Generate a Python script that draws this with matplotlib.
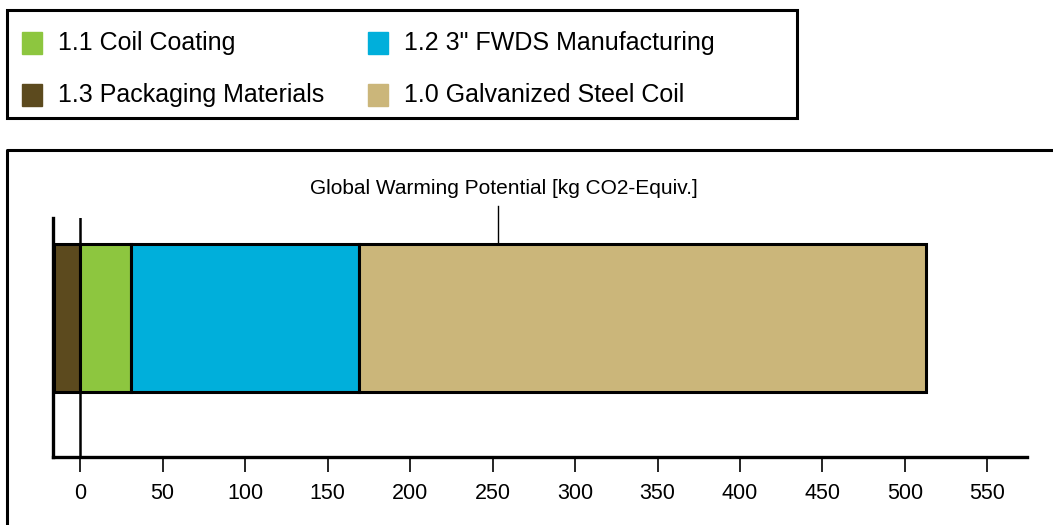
import matplotlib.pyplot as plt
from matplotlib.patches import Rectangle
from matplotlib.lines import Line2D

plt.rcParams['font.family'] = ['Liberation Sans', 'DejaVu Sans']

# GWP contributions [kg CO2-Equiv.]
labels = ['1.3 Packaging Materials', '1.1 Coil Coating',
          '1.2 3" FWDS Manufacturing', '1.0 Galvanized Steel Coil']
values = [-16, 31, 138, 344]
colors = ['#5c4a1e', '#8dc63f', '#00afdb', '#cbb67a']
ticks = [0, 50, 100, 150, 200, 250, 300, 350, 400, 450, 500, 550]

fig = plt.figure(figsize=(10.53, 5.25), dpi=100)
ax = fig.add_axes([0.0503, 0.1295, 0.925, 0.4553])

# stack: negative part left of zero, positives after
left = 0
for lab, v, c in zip(labels, values, colors):
    if v < 0:
        ax.barh(0.58, v, left=0, height=0.62, color=c, edgecolor='black', linewidth=2.2)
    else:
        ax.barh(0.58, v, left=left, height=0.62, color=c, edgecolor='black', linewidth=2.2)
        left += v

ax.axvline(0, color='black', linewidth=1.8, zorder=5)
ax.set_xlim(-16.5, 574)
ax.set_ylim(0, 1)
ax.set_yticks([])
ax.set_xticks(ticks)
ax.tick_params(axis='x', length=11, width=1.2, labelsize=15.5, pad=8)
for s in ['top', 'right']:
    ax.spines[s].set_visible(False)
for s in ['left', 'bottom']:
    ax.spines[s].set_linewidth(2.4)

# label with leader line
tr = ax.get_xaxis_transform()
ax.plot([253, 253], [0.89, 1.05], color='black', lw=1.0, transform=tr, clip_on=False)
ax.text(257, 1.125, 'Global Warming Potential [kg CO2-Equiv.]', transform=tr,
        ha='center', va='center', fontsize=15)

# legend box
W, H = 1053.0, 525.0
fig.patches.append(Rectangle((7 / W, 1 - 118 / H), 790 / W, 108 / H,
                             transform=fig.transFigure, fill=False,
                             edgecolor='black', linewidth=2.2))
leg_pos = [(22, 43), (368, 43), (22, 95), (368, 95)]
leg_items = [1, 2, 0, 3]
for (px, py), i in zip(leg_pos, leg_items):
    fig.patches.append(Rectangle((px / W, 1 - (py + 11) / H), 20 / W, 22 / H,
                                 transform=fig.transFigure, color=colors[i]))
    fig.text((px + 36) / W, 1 - py / H, labels[i], fontsize=18, va='center', ha='left')

# chart frame (top and left edges only visible)
fig.lines.append(Line2D([7 / W, 7 / W, 1.0], [0, 1 - 150 / H, 1 - 150 / H],
                        transform=fig.transFigure, color='black', linewidth=2.2))

fig.savefig('out.png', dpi=100)
